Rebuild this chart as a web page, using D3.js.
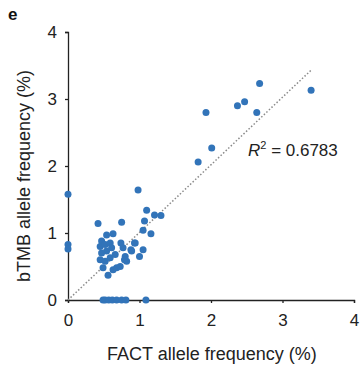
<!DOCTYPE html>
<html>
<head>
<meta charset="utf-8">
<script src="https://cdn.jsdelivr.net/npm/d3@7"></script>
<style>
  html, body { margin: 0; padding: 0; background: #fff; }
  svg { display: block; font-family: "Liberation Sans", Arial, sans-serif; }
</style>
</head>
<body>
<svg id="chart" width="360" height="366"></svg>
<script>
// FACT vs bTMB allele frequency (%) per variant
const factAF = [
  3.40, 2.68, 2.47, 2.37, 2.64, 1.93, 2.01, 1.82,
  0.98, 0.42, 0.75, 1.10, 1.21, 1.30, 1.07, 1.05, 1.16,
  0.00, 0.00, 0.00,
  0.54, 0.63, 0.47, 0.45, 0.52, 0.59, 0.61, 0.54, 0.47, 0.45, 0.52, 0.59, 0.66,
  0.74, 0.77, 0.89, 0.94, 0.80, 0.82, 1.05, 0.63, 0.68, 0.73, 0.56, 0.49,
  0.88, 0.93, 1.00, 0.79,
  0.49, 0.52, 0.57, 0.62, 0.68, 0.75, 0.81, 1.09
];
const btmbAF = [
  3.13, 3.23, 2.96, 2.90, 2.80, 2.80, 2.27, 2.06,
  1.64, 1.14, 1.16, 1.34, 1.27, 1.26, 1.18, 1.04, 0.99,
  1.58, 0.83, 0.76,
  0.97, 0.99, 0.88, 0.80, 0.83, 0.85, 0.78, 0.73, 0.70, 0.60, 0.58, 0.63, 0.68,
  0.85, 0.78, 0.73, 0.85, 0.65, 0.58, 0.75, 0.45, 0.48, 0.50, 0.37, 0.48,
  0.75, 0.85, 0.65, 0.60,
  0.00, 0.00, 0.00, 0.00, 0.00, 0.00, 0.00, 0.00
];
const xTicks = [0, 1, 2, 3, 4];
const yTicks = [0, 1, 2, 3, 4];
// Linear trend line end points (through the origin)
const trendX = [0, 3.40];
const trendY = [0, 3.43];
const rSquared = "0.6783";

const svg = d3.select("#chart");
const x = d3.scaleLinear().domain([0, 4]).range([68, 354]);
const y = d3.scaleLinear().domain([0, 4]).range([300, 32]);

// Axes
const xAxis = svg.append("g").attr("transform", `translate(0,${y(0)})`)
  .call(d3.axisBottom(x).tickValues(xTicks).tickSize(3).tickPadding(11).tickFormat(d3.format("d")));
const yAxis = svg.append("g").attr("transform", `translate(${x(0)},0)`)
  .call(d3.axisLeft(y).tickValues(yTicks).tickSize(3).tickPadding(8).tickFormat(d3.format("d")));
[xAxis, yAxis].forEach(g => {
  g.select(".domain").attr("stroke", "#222").attr("stroke-width", 1.3);
  g.selectAll(".tick line").attr("stroke", "#222").attr("stroke-width", 1.3);
  g.selectAll(".tick text").attr("fill", "#222").style("font-size", "17px")
    .style("font-family", "'Liberation Sans', Arial, sans-serif");
});

// Trend line
svg.append("line")
  .attr("x1", x(trendX[0])).attr("y1", y(trendY[0]))
  .attr("x2", x(trendX[1])).attr("y2", y(trendY[1]))
  .attr("stroke", "#8a8a8a").attr("stroke-width", 1.5)
  .attr("stroke-dasharray", "1.5,2");

// Points
svg.append("g").selectAll("circle")
  .data(factAF.map((v, i) => [v, btmbAF[i]]))
  .join("circle")
  .attr("cx", d => x(d[0])).attr("cy", d => y(d[1]))
  .attr("r", 3.5).attr("fill", "#3274b9");

// R² annotation
const rText = svg.append("text").attr("x", 248).attr("y", 156)
  .attr("fill", "#222").style("font-size", "17px");
rText.append("tspan").style("font-style", "italic").text("R");
rText.append("tspan").attr("dy", -7).style("font-size", "11px").text("2");
rText.append("tspan").attr("dy", 7).text(" = " + rSquared);

// Axis titles
svg.append("text").attr("x", 212).attr("y", 360).attr("text-anchor", "middle")
  .attr("fill", "#222").style("font-size", "18px").text("FACT allele frequency (%)");
svg.append("text").attr("transform", `translate(30,${y(1.85)}) rotate(-90)`)
  .attr("text-anchor", "middle").attr("fill", "#222").style("font-size", "18px")
  .text("bTMB allele frequency (%)");

// Panel label
svg.append("text").attr("x", 8).attr("y", 20).attr("fill", "#111")
  .style("font-size", "17px").style("font-weight", "bold").text("e");
</script>
</body>
</html>
